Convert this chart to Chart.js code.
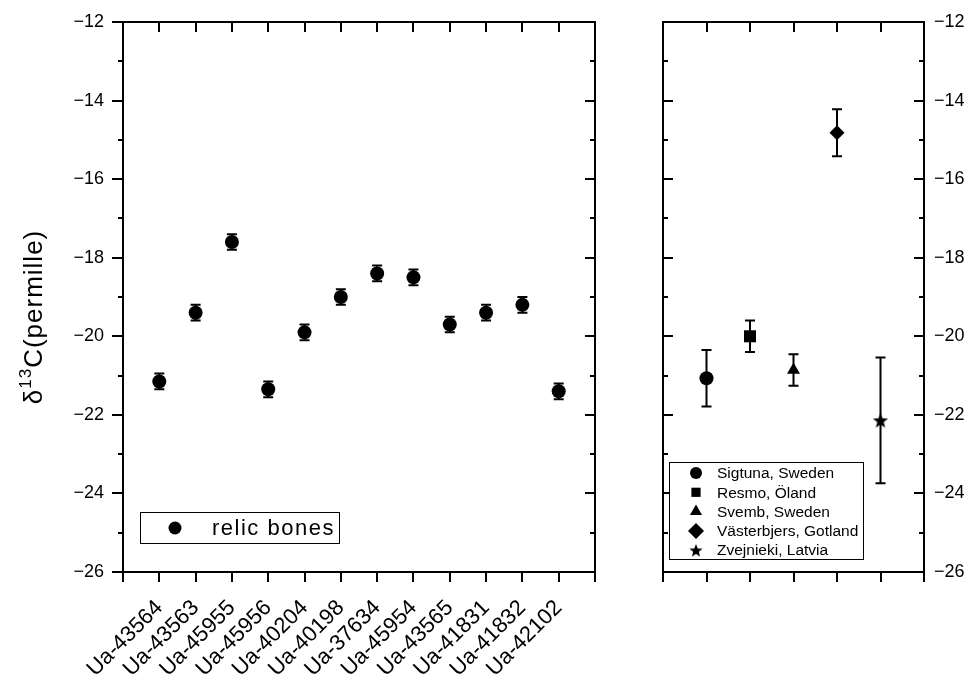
<!DOCTYPE html>
<html>
<head>
<meta charset="utf-8">
<script src="https://cdn.jsdelivr.net/npm/chart.js@4.4.1/dist/chart.umd.min.js"></script>
<style>
  html, body { margin: 0; padding: 0; background: #fff; }
  #wrap { position: relative; width: 971px; height: 680px; overflow: hidden; }
  canvas { position: absolute; top: 0; }
  #left { left: 0; }
  #right { left: 640px; }
</style>
</head>
<body>
<div id="wrap">
  <canvas id="left" width="640" height="680"></canvas>
  <canvas id="right" width="331" height="680"></canvas>
</div>
<script>
// relic bones (left panel)
const boneLabels = ["Ua-43564", "Ua-43563", "Ua-45955", "Ua-45956", "Ua-40204", "Ua-40198",
  "Ua-37634", "Ua-45954", "Ua-43565", "Ua-41831", "Ua-41832", "Ua-42102"];
const boneValues = [-21.15, -19.4, -17.6, -21.35, -19.9, -19.0, -18.4, -18.5, -19.7, -19.4, -19.2, -21.4];
const boneErrors = [0.2, 0.2, 0.2, 0.2, 0.2, 0.2, 0.2, 0.2, 0.2, 0.2, 0.2, 0.2];

// comparison sites (right panel)
const siteLabels = ["Sigtuna, Sweden", "Resmo, Öland", "Svemb, Sweden", "Västerbjers, Gotland", "Zvejnieki, Latvia"];
const siteValues = [-21.07, -20.0, -20.86, -14.82, -22.14];
const siteErrors = [0.72, 0.4, 0.4, 0.6, 1.6];

// y axis
const yMin = -26, yMax = -12, yStep = 2;

const FONT = "'Liberation Sans', Arial, sans-serif";
const minus = (v) => String(v).replace("-", "\u2212");

// filled five-point star, used as a point style
function makeStar(r) {
  const c = document.createElement("canvas");
  c.width = c.height = Math.ceil(r * 2 + 2);
  const g = c.getContext("2d");
  g.translate(c.width / 2, c.height / 2 + r * 0.1);
  g.beginPath();
  for (let i = 0; i < 10; i++) {
    const rr = i % 2 ? r * 0.42 : r;
    const a = -Math.PI / 2 + i * Math.PI / 5;
    g.lineTo(rr * Math.cos(a), rr * Math.sin(a));
  }
  g.closePath();
  g.fillStyle = "#000";
  g.fill();
  return c;
}
const starBig = makeStar(8);
const starSmall = makeStar(7);

// axis box + inward/outward ticks
const framePlugin = {
  id: "frame",
  afterDraw(chart, args, opts) {
    const { ctx, chartArea: a, scales } = chart;
    const x = scales.x, y = scales.y;
    ctx.save();
    ctx.strokeStyle = "#000";
    ctx.lineWidth = 2;
    ctx.beginPath();
    for (let v = yMin; v <= yMax; v += 1) {
      const py = Math.round(y.getPixelForValue(v));
      const major = (v - yMin) % yStep === 0;
      if (opts.leftOut) {
        ctx.moveTo(a.left, py); ctx.lineTo(a.left - (major ? 11 : 5), py);
      } else {
        ctx.moveTo(a.left, py); ctx.lineTo(a.left + (major ? 10 : 5), py);
      }
      ctx.moveTo(a.right, py); ctx.lineTo(a.right - (major ? 10 : 5), py);
    }
    for (let v = x.min; v <= x.max; v++) {
      const px = Math.round(x.getPixelForValue(v));
      ctx.moveTo(px, a.top); ctx.lineTo(px, a.top + 10);
      ctx.moveTo(px, a.bottom); ctx.lineTo(px, a.bottom + 10);
    }
    ctx.stroke();
    ctx.strokeRect(a.left, a.top, a.right - a.left, a.bottom - a.top);
    ctx.restore();
  }
};

// vertical error bars with caps
const errorBarPlugin = {
  id: "errbars",
  beforeDatasetsDraw(chart) {
    const { ctx, scales } = chart;
    ctx.save();
    ctx.strokeStyle = "#000";
    ctx.lineWidth = 2;
    chart.data.datasets.forEach((ds) => {
      ds.data.forEach((p, i) => {
        const e = ds.errors[i];
        const px = scales.x.getPixelForValue(p.x);
        const top = scales.y.getPixelForValue(p.y + e);
        const bot = scales.y.getPixelForValue(p.y - e);
        ctx.beginPath();
        ctx.moveTo(px, top); ctx.lineTo(px, bot);
        ctx.moveTo(px - 5, top); ctx.lineTo(px + 5, top);
        ctx.moveTo(px - 5, bot); ctx.lineTo(px + 5, bot);
        ctx.stroke();
      });
    });
    ctx.restore();
  }
};

function drawMarker(ctx, style, r, x, y) {
  if (style instanceof HTMLCanvasElement) {
    ctx.drawImage(style, x - style.width / 2, y - style.height / 2);
    return;
  }
  ctx.fillStyle = "#000";
  ctx.strokeStyle = "#000";
  Chart.helpers.drawPoint(ctx, { pointStyle: style, radius: r, rotation: 0, borderWidth: 0 }, x, y);
}

// legend box drawn inside the plot
const boxLegendPlugin = {
  id: "boxlegend",
  afterDraw(chart, args, o) {
    const ctx = chart.ctx;
    ctx.save();
    ctx.fillStyle = "#fff";
    ctx.fillRect(o.x, o.y, o.w, o.h);
    ctx.strokeStyle = "#000";
    ctx.lineWidth = 1;
    ctx.strokeRect(o.x + 0.5, o.y + 0.5, o.w, o.h);
    o.items.forEach((it, i) => {
      const cy = o.y + o.first + i * o.gap;
      drawMarker(ctx, it.style, it.r, o.x + o.mx, cy);
      ctx.fillStyle = "#000";
      ctx.font = o.font;
      ctx.letterSpacing = o.spacing || "0px";
      ctx.textBaseline = "middle";
      ctx.textAlign = "left";
      ctx.fillText(it.label, o.x + o.tx, cy + 1);
    });
    ctx.restore();
  }
};

// rotated y title with superscript
const yTitlePlugin = {
  id: "ytitle",
  afterDraw(chart) {
    const ctx = chart.ctx;
    ctx.save();
    ctx.translate(42, 317);
    ctx.rotate(-Math.PI / 2);
    ctx.fillStyle = "#000";
    ctx.textBaseline = "alphabetic";
    ctx.letterSpacing = "1px";
    const big = "26px " + FONT, small = "17px " + FONT;
    ctx.font = big;
    const w1 = ctx.measureText("\u03B4").width;
    const w3 = ctx.measureText("C(permille)").width;
    ctx.font = small;
    const w2 = ctx.measureText("13").width;
    let x = -(w1 + w2 + w3) / 2;
    ctx.font = big;
    ctx.fillText("\u03B4", x, 0); x += w1;
    ctx.font = small;
    ctx.fillText("13", x, -11); x += w2;
    ctx.font = big;
    ctx.fillText("C(permille)", x, 0);
    ctx.restore();
  }
};

const yTicks = (padding) => ({
  stepSize: yStep,
  padding: padding,
  color: "#000",
  font: { family: FONT, size: 18 },
  callback: (v) => minus(v)
});

const fixY = (w) => (s) => { s.width = w; s.paddingTop = 0; s.paddingBottom = 0; };

new Chart(document.getElementById("left"), {
  type: "scatter",
  data: {
    datasets: [{
      label: "relic bones",
      data: boneValues.map((v, i) => ({ x: i, y: v })),
      errors: boneErrors,
      pointStyle: "circle",
      pointRadius: 7,
      backgroundColor: "#000",
      borderColor: "#000",
      borderWidth: 0
    }]
  },
  options: {
    responsive: false,
    animation: false,
    layout: { padding: { top: 22, right: 45, left: 0, bottom: 0 } },
    plugins: {
      legend: { display: false },
      tooltip: { enabled: false },
      frame: { leftOut: true },
      boxlegend: {
        x: 140, y: 512, w: 199, h: 31, first: 16, gap: 0, mx: 35, tx: 72,
        font: "22px " + FONT, spacing: "1.5px",
        items: [{ label: "relic bones", style: "circle", r: 6.5 }]
      }
    },
    scales: {
      x: {
        type: "linear", min: -1, max: boneLabels.length,
        grid: { display: false, drawTicks: false }, border: { display: false },
        ticks: {
          stepSize: 1, autoSkip: false, minRotation: 45, maxRotation: 45, padding: 23,
          color: "#000", font: { family: FONT, size: 22 },
          callback: (v) => boneLabels[v] || ""
        },
        afterFit: (s) => { s.height = 108; s.paddingLeft = 0; s.paddingRight = 0; }
      },
      y: {
        min: yMin, max: yMax,
        grid: { display: false, drawTicks: false }, border: { display: false },
        ticks: yTicks(19),
        afterFit: fixY(123)
      }
    }
  },
  plugins: [errorBarPlugin, framePlugin, boxLegendPlugin, yTitlePlugin]
});

const siteStyles = ["circle", "rect", "triangle", "rectRot", starBig];
const siteRadius = [7, 8.5, 7.5, 7.5, 8];
const legendStyles = ["circle", "rect", "triangle", "rectRot", starSmall];
const legendRadius = [6, 6.5, 7, 8, 7];

new Chart(document.getElementById("right"), {
  type: "scatter",
  data: {
    datasets: [{
      label: "sites",
      data: siteValues.map((v, i) => ({ x: i, y: v })),
      errors: siteErrors,
      pointStyle: siteStyles,
      pointRadius: siteRadius,
      backgroundColor: "#000",
      borderColor: "#000",
      borderWidth: 0
    }]
  },
  options: {
    responsive: false,
    animation: false,
    layout: { padding: { top: 22, right: 0, left: 23, bottom: 108 } },
    plugins: {
      legend: { display: false },
      tooltip: { enabled: false },
      frame: { leftOut: false },
      boxlegend: {
        x: 29, y: 462, w: 194, h: 97, first: 11, gap: 19.3, mx: 27, tx: 48,
        font: "15.5px " + FONT,
        items: siteLabels.map((l, i) => ({ label: l, style: legendStyles[i], r: legendRadius[i] }))
      }
    },
    scales: {
      x: { type: "linear", min: -1, max: siteLabels.length, display: false },
      y: {
        position: "right", min: yMin, max: yMax,
        grid: { display: false, drawTicks: false }, border: { display: false },
        ticks: yTicks(10),
        afterFit: fixY(47)
      }
    }
  },
  plugins: [errorBarPlugin, framePlugin, boxLegendPlugin]
});
</script>
</body>
</html>
